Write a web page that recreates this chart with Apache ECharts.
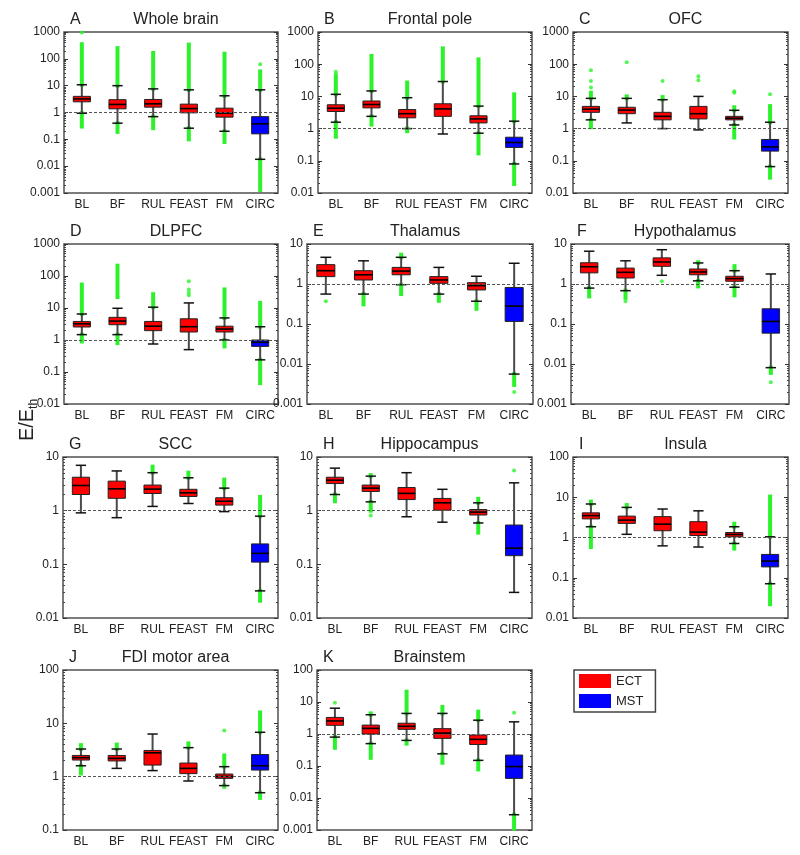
<!DOCTYPE html>
<html>
<head>
<meta charset="utf-8">
<script src="https://cdn.jsdelivr.net/npm/echarts@6/dist/echarts.min.js"></script>
<style>html,body{margin:0;padding:0;background:#fff}#c{width:800px;height:855px}</style>
</head>
<body>
<div id="c"></div>
<script>
// ---------- DATA ----------
const categories = ['BL', 'BF', 'RUL', 'FEAST', 'FM', 'CIRC'];
const panelLetters = ['A','B','C','D','E','F','G','H','I','J','K'];
const panelTitles = ['Whole brain','Frontal pole','OFC','DLPFC','Thalamus','Hypothalamus','SCC','Hippocampus','Insula','FDI motor area','Brainstem'];
const yMinExp = [-3, -2, -2, -2, -3, -3, -2, -2, -2, -1, -3];
const yMaxExp = [3, 3, 3, 3, 1, 1, 1, 1, 2, 2, 2];
const legendNames = ['ECT', 'MST'];

// box stats per category: [lower whisker, Q1, median, Q3, upper whisker]
const boxA = [[0.94,2.5,3.2,4.0,10.8],[0.4,1.37,2.0,3.0,10],[0.7,1.58,2.1,3.06,7.6],[0.26,0.97,1.4,2.05,7],[0.2,0.67,0.95,1.45,4.2],[0.018,0.16,0.38,0.7,7]];
const boxB = [[1.58,3.4,4.3,5.5,11.6],[2.4,4.4,5.6,7.2,14.8],[1.0,2.16,2.9,3.9,9.1],[0.68,2.4,4.1,5.9,29],[0.72,1.5,2.0,2.5,5.0],[0.08,0.26,0.37,0.54,1.7]];
const boxC = [[1.87,3.2,4.0,4.9,8.7],[1.5,2.9,3.75,4.6,8.7],[1.0,1.87,2.4,3.2,7.9],[0.91,2.0,2.9,4.9,10],[1.3,1.87,2.1,2.4,3.7],[0.066,0.2,0.27,0.46,1.58]];
const boxD = [[1.47,2.55,3.2,3.8,6.5],[1.47,3.0,3.9,5.1,9.8],[0.75,1.96,2.7,3.8,10.6],[0.5,1.78,2.6,4.6,14.4],[1.0,1.78,2.2,2.7,4.9],[0.24,0.63,0.85,1.0,2.6]];
const boxE = [[0.56,1.53,2.15,3.05,4.65],[0.56,1.26,1.7,2.15,3.8],[0.96,1.7,2.1,2.6,4.65],[0.56,1.04,1.26,1.53,2.6],[0.37,0.71,0.91,1.08,1.56],[0.0056,0.116,0.28,0.82,3.3]];
const boxF = [[0.79,1.9,2.7,3.4,6.6],[0.68,1.41,1.96,2.5,3.8],[1.65,2.77,3.55,4.5,7.2],[1.2,1.7,2.0,2.37,3.36],[0.83,1.17,1.36,1.56,2.15],[0.0081,0.059,0.116,0.24,1.78]];
const boxG = [[0.91,2.0,2.95,4.2,7.0],[0.74,1.7,2.55,3.55,5.5],[1.2,2.09,2.52,3.0,5.1],[1.36,1.84,2.15,2.5,4.1],[0.96,1.27,1.5,1.74,2.63],[0.032,0.11,0.16,0.24,0.79]];
const boxH = [[2.0,3.2,3.7,4.2,6.2],[1.46,2.28,2.63,3.0,4.4],[0.77,1.61,2.1,2.7,5.1],[0.61,1.02,1.4,1.69,2.5],[0.59,0.83,0.94,1.05,1.4],[0.03,0.145,0.2,0.54,3.3]];
const boxI = [[1.85,2.9,3.5,4.1,6.8],[1.2,2.24,2.7,3.4,5.6],[0.62,1.47,2.15,3.3,5.1],[0.58,1.12,1.36,2.47,4.6],[0.71,1.04,1.19,1.33,1.85],[0.071,0.186,0.26,0.38,1.04]];
const boxJ = [[1.6,2.05,2.27,2.5,3.3],[1.43,1.97,2.2,2.5,3.3],[1.3,1.65,2.8,3.1,6.3],[0.83,1.14,1.43,1.8,3.5],[0.68,0.93,1.01,1.12,1.54],[0.5,1.33,1.6,2.6,6.8]];
const boxK = [[0.8,1.87,2.56,3.3,6.4],[0.5,1.0,1.5,1.9,4.0],[0.63,1.4,1.74,2.17,4.4],[0.24,0.73,1.07,1.47,4.4],[0.15,0.47,0.68,0.93,2.7],[0.003,0.041,0.096,0.22,2.4]];

// dense outlier streaks: [category index, low, high]
const outRangeA = [[0,10.8,350],[0,0.3,0.94],[1,10,250],[1,0.19,0.4],[2,7.6,165],[2,0.26,0.7],[3,7,340],[3,0.1,0.26],[4,4.2,155],[4,0.08,0.2],[5,7,34],[5,0.0013,0.018]];
const outRangeB = [[0,11.6,42],[0,0.56,1.58],[1,14.8,180],[1,1.33,2.4],[2,9.1,27],[2,0.83,1.0],[3,29,310],[4,5,141],[4,0.17,0.72],[5,1.7,11.6],[5,0.019,0.08]];
const outRangeC = [[0,8.7,13],[0,1.1,1.87],[1,8.7,10],[2,7.9,9.5],[4,3.7,4.6],[4,0.53,1.3],[5,1.58,5],[5,0.03,0.066]];
const outRangeD = [[0,6.5,54],[0,0.9,1.47],[1,22,210],[1,0.8,1.47],[2,10.6,27],[4,4.9,38],[4,0.63,1.0],[5,2.6,14.4],[5,0.045,0.24]];
const outRangeE = [[1,0.31,0.56],[2,4.65,5.4],[2,0.56,0.96],[3,0.38,0.56],[4,0.24,0.37],[5,0.003,0.0056]];
const outRangeF = [[0,0.49,0.79],[1,0.45,0.68],[3,3.36,3.5],[3,0.87,1.2],[4,2.15,2.8],[4,0.52,0.83],[5,0.006,0.0081]];
const outRangeG = [[2,5.1,6.6],[3,4.1,5.1],[4,2.63,3.8],[5,0.79,1.8],[5,0.021,0.032]];
const outRangeH = [[0,1.5,2.0],[1,4.4,4.6],[1,1.0,1.46],[4,1.4,1.66],[4,0.39,0.59]];
const outRangeI = [[0,6.8,7.8],[0,0.58,1.85],[1,5.6,6.4],[4,1.85,2.2],[4,0.53,0.71],[5,1.04,10.4],[5,0.022,0.071]];
const outRangeJ = [[0,3.3,3.9],[0,1.15,1.6],[1,3.3,4.0],[3,3.5,4.2],[4,1.54,2.5],[4,0.65,0.68],[5,6.8,16],[5,0.4,0.5]];
const outRangeK = [[0,0.37,0.8],[1,4.0,4.4],[1,0.18,0.5],[2,4.4,21],[2,0.5,0.63],[3,4.4,7],[3,0.126,0.24],[4,2.7,5.0],[4,0.078,0.15],[5,0.0011,0.003]];

// isolated outliers: [category index, value]
const outPointA = [[0,950],[5,63]];
const outPointB = [[0,50],[0,58]];
const outPointC = [[0,19],[0,30],[0,65],[1,114],[2,30],[3,32],[3,42],[4,13],[4,14.5],[5,11.6]];
const outPointD = [[3,25],[3,30],[3,38],[3,69]];
const outPointE = [[0,0.37],[5,0.002]];
const outPointF = [[1,0.37],[2,1.17],[5,0.0035]];
const outPointG = [];
const outPointH = [[1,0.81],[5,5.6]];
const outPointI = [];
const outPointJ = [[4,7.3]];
const outPointK = [[0,9.4],[5,4.6]];

const boxes = [boxA,boxB,boxC,boxD,boxE,boxF,boxG,boxH,boxI,boxJ,boxK];
const outRanges = [outRangeA,outRangeB,outRangeC,outRangeD,outRangeE,outRangeF,outRangeG,outRangeH,outRangeI,outRangeJ,outRangeK];
const outPoints = [outPointA,outPointB,outPointC,outPointD,outPointE,outPointF,outPointG,outPointH,outPointI,outPointJ,outPointK];

// ---------- LAYOUT / STYLE ----------
const layout = [
  [64,32,214,161],[318,32,214,161],[573,32,215,161],
  [64,244,214,160],[307,244,226,160],[571,244,218,160],
  [63,457,215,161],[317,457,215,161],[573,457,215,161],
  [63,670,215,160],[317,670,215,160]
];
const FONT = '"Liberation Sans", Arial, sans-serif';
const GREEN = '#2cf22c';
const RED = '#ff0000';
const BLUE = '#0000ff';

function fmt(v){ return String(parseFloat(v.toPrecision(6))); }

function renderRange(params, api){
  const x = api.value(0);
  const p1 = api.coord([x, api.value(1)]);
  const p2 = api.coord([x, api.value(2)]);
  return {type:'rect', shape:{x:p1[0]-2, y:p2[1]-2, width:4, height:p1[1]-p2[1]+4}, style:{fill:GREEN}};
}
function renderBox(params, api){
  const x = api.value(0);
  const bw = api.size([1,0])[0]*0.48;
  const cw = bw*0.6;
  const lo = api.coord([x, api.value(1)]);
  const q1 = api.coord([x, api.value(2)]);
  const md = api.coord([x, api.value(3)]);
  const q3 = api.coord([x, api.value(4)]);
  const hi = api.coord([x, api.value(5)]);
  const cx = lo[0];
  const col = api.visual('color');
  return {type:'group', children:[
    {type:'line', shape:{x1:cx,y1:lo[1],x2:cx,y2:hi[1]}, style:{stroke:'#4a4a4a', lineWidth:2}},
    {type:'line', shape:{x1:cx-cw/2,y1:lo[1],x2:cx+cw/2,y2:lo[1]}, style:{stroke:'#111', lineWidth:1.5}},
    {type:'line', shape:{x1:cx-cw/2,y1:hi[1],x2:cx+cw/2,y2:hi[1]}, style:{stroke:'#111', lineWidth:1.5}},
    {type:'rect', shape:{x:cx-bw/2,y:q3[1],width:bw,height:q1[1]-q3[1]}, style:{fill:col, stroke:'#222', lineWidth:1}},
    {type:'line', shape:{x1:cx-bw/2,y1:md[1],x2:cx+bw/2,y2:md[1]}, style:{stroke:'#000', lineWidth:1.6}}
  ]};
}

const grid = [], xAxis = [], yAxis = [], series = [], title = [];
const tickStyle = {show:true, inside:true, length:4, lineStyle:{color:'#333'}};
const minorStyle = {show:true, splitNumber:9, length:2, lineStyle:{color:'#444'}};
layout.forEach((L, i) => {
  const [left, top, width, height] = L;
  grid.push({left, top, width, height, show:true, borderColor:'#505050', borderWidth:1.5, backgroundColor:'transparent'});
  xAxis.push({type:'category', gridIndex:i, data:categories, boundaryGap:true,
    axisLine:{show:false}, axisTick:{show:false}, splitLine:{show:false},
    axisLabel:{fontSize:12, color:'#222', fontFamily:FONT, margin:6, interval:0}});
  const ymin = Math.pow(10, yMinExp[i]), ymax = Math.pow(10, yMaxExp[i]);
  yAxis.push({type:'log', logBase:10, gridIndex:i, min:ymin, max:ymax, interval:1,
    axisLine:{show:false}, splitLine:{show:false},
    axisTick:tickStyle, minorTick:minorStyle,
    axisLabel:{fontSize:12, color:'#222', fontFamily:FONT, margin:4, formatter:fmt}});
  yAxis.push({type:'log', logBase:10, gridIndex:i, position:'right', min:ymin, max:ymax, interval:1,
    axisLine:{show:false}, splitLine:{show:false},
    axisTick:tickStyle, minorTick:minorStyle,
    axisLabel:{show:false}});
  const yi = i*2;
  series.push({type:'custom', name:'out'+i, xAxisIndex:i, yAxisIndex:yi, renderItem:renderRange,
    data:outRanges[i], encode:{x:0, y:[1,2]}, silent:true, z:2,
    markLine:{silent:true, symbol:'none', label:{show:false},
      lineStyle:{type:[3,2], color:'#555', width:1}, data:[{yAxis:1}]}});
  series.push({type:'scatter', name:'pts'+i, xAxisIndex:i, yAxisIndex:yi, data:outPoints[i],
    symbol:'circle', symbolSize:4, itemStyle:{color:GREEN}, silent:true, z:2});
  const ect = boxes[i].slice(0,5).map((b,k)=>[k].concat(b));
  const mst = [[5].concat(boxes[i][5])];
  series.push({type:'custom', name:legendNames[0], xAxisIndex:i, yAxisIndex:yi, renderItem:renderBox,
    data:ect, encode:{x:0, y:[1,2,3,4,5]}, itemStyle:{color:RED}, z:3});
  series.push({type:'custom', name:legendNames[1], xAxisIndex:i, yAxisIndex:yi, renderItem:renderBox,
    data:mst, encode:{x:0, y:[1,2,3,4,5]}, itemStyle:{color:BLUE}, z:3});
  title.push({text:panelLetters[i], left:left+1, top:top-25,
    textStyle:{fontSize:16, fontWeight:'normal', color:'#222', fontFamily:FONT}});
  title.push({text:panelTitles[i], left:left+width/2, top:top-25, textAlign:'center',
    textStyle:{fontSize:16, fontWeight:'normal', color:'#222', fontFamily:FONT}});
});

const chart = echarts.init(document.getElementById('c'), null, {renderer:'canvas'});
chart.setOption({
  animation:false,
  backgroundColor:'#fff',
  title, grid, xAxis, yAxis, series,
  legend:{data:legendNames.map(n=>({name:n, icon:'rect'})), orient:'vertical', left:574, top:670,
    itemWidth:32, itemHeight:14, itemGap:6, selectedMode:false,
    borderColor:'#444', borderWidth:1.5, padding:[4,12,4,5],
    textStyle:{fontSize:13, color:'#222', fontFamily:FONT}},
  graphic:[{type:'text', x:27, y:420, rotation:Math.PI/2,
    style:{text:'{a|E/E}{b|th}', align:'center', verticalAlign:'middle',
      rich:{a:{fontSize:20, fontFamily:FONT, fill:'#222', lineHeight:26, verticalAlign:'middle'},
            b:{fontSize:12, fontFamily:FONT, fill:'#222', lineHeight:26, verticalAlign:'bottom'}}}}]
});
</script>
</body>
</html>
